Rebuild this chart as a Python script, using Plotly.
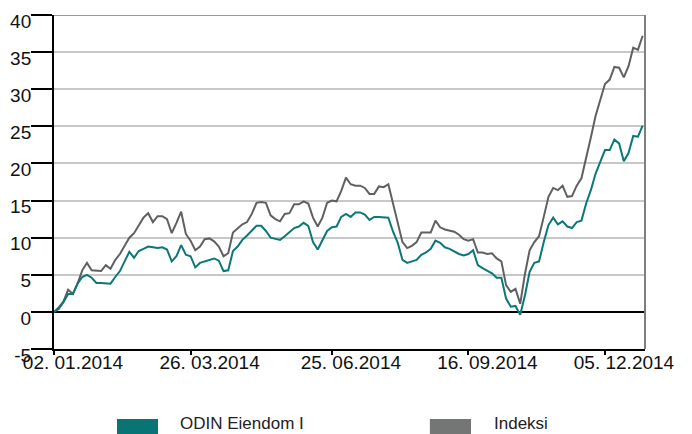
import plotly.graph_objects as go

# Trading-day index (every 2nd trading day of 2014)
trading_day = list(range(0, 251, 2))

odin_eiendom = [
    0, 0.4, 1.3, 2.4, 2.4, 3.8, 4.7, 5.0, 4.6, 3.9,
    3.9, 3.8, 3.8, 4.7, 5.5, 6.8, 8.1, 7.3, 8.2, 8.5,
    8.8, 8.7, 8.6, 8.7, 8.4, 6.8, 7.5, 9.0, 7.7, 7.5,
    6.0, 6.6, 6.8, 7.0, 7.2, 6.9, 5.5, 5.6, 8.2, 8.8,
    9.7, 10.3, 10.9, 11.6, 11.6, 10.9, 10.0, 9.9, 9.7, 10.2,
    10.8, 11.3, 11.5, 12.0, 11.6, 9.4, 8.4, 9.6, 10.9, 11.4,
    11.5, 12.8, 13.2, 12.8, 13.4, 13.4, 13.1, 12.4, 12.8, 12.8,
    12.7, 12.7, 10.8, 9.3, 7.0, 6.6, 6.8, 7.0, 7.7, 8.0,
    8.5, 9.6, 9.3, 8.7, 8.5, 8.1, 7.8, 7.6, 7.8, 8.3,
    6.3, 5.9, 5.5, 5.2, 4.6, 4.6, 1.8, 0.7, 0.8, -0.4,
    2.2, 5.4, 6.6, 6.8, 9.4, 11.7, 12.7, 11.8, 12.2, 11.5,
    11.3, 12.1, 12.3, 14.6, 16.4, 18.6, 20.2, 21.8, 21.8, 23.2,
    22.7, 20.3, 21.4, 23.7, 23.6, 25.1,
]

indeksi = [
    0, 0.6, 1.4, 3.0, 2.4, 3.8, 5.6, 6.6, 5.6, 5.5,
    5.5, 6.3, 5.8, 7.0, 7.8, 8.9, 10.0, 10.6, 11.7, 12.7,
    13.3, 12.1, 12.9, 12.9, 12.5, 10.6, 12.0, 13.5, 10.5, 9.6,
    8.3, 8.8, 9.8, 9.9, 9.5, 8.8, 7.5, 7.9, 10.7, 11.3,
    11.8, 12.1, 13.2, 14.7, 14.8, 14.7, 13.0, 12.5, 12.2, 13.2,
    13.3, 14.5, 14.5, 14.9, 14.6, 12.7, 11.5, 12.7, 14.7, 15.0,
    14.9, 16.3, 18.1, 17.2, 17.0, 17.0, 16.7, 15.9, 15.9, 16.9,
    16.8, 17.2, 14.6, 12.2, 9.4, 8.6, 8.9, 9.4, 10.7, 10.7,
    10.7, 12.3, 11.4, 11.1, 11.0, 10.8, 10.4, 9.8, 9.6, 9.8,
    8.0, 8.0, 7.8, 7.9, 7.2, 6.8, 3.6, 2.7, 3.1, 1.1,
    5.1, 8.3, 9.4, 10.2, 12.8, 15.5, 16.7, 16.4, 17.0, 15.5,
    15.6, 17.0, 18.0, 20.6, 23.5, 26.4, 28.5, 30.7, 31.3, 33.0,
    32.9, 31.6, 33.1, 35.6, 35.3, 37.2,
]

tick_days = [0, 58, 118, 176, 234]
tick_labels = ["02. 01.2014", "26. 03.2014", "25. 06.2014", "16. 09.2014", "05. 12.2014"]
y_ticks = [-5, 0, 5, 10, 15, 20, 25, 30, 35, 40]
y_tick_labels = ["-5", "0", "5", "10", "15", "20", "25", "30", "35", "40"]

series_names = ["ODIN Eiendom I", "Indeksi"]
teal = "#0b7877"
gray = "#5f6061"

fig = go.Figure()
fig.add_trace(go.Scatter(x=trading_day, y=indeksi, mode="lines", name=series_names[1],
                         line=dict(color=gray, width=2)))
fig.add_trace(go.Scatter(x=trading_day, y=odin_eiendom, mode="lines", name=series_names[0],
                         line=dict(color=teal, width=2)))

tick_font = dict(family="Liberation Sans, Arial, sans-serif", size=19, color="#111111")

# the page body adds an 8px offset, so the figure is 684x426
fig.update_layout(
    width=684, height=426,
    margin=dict(l=46, r=47, t=7, b=85),
    paper_bgcolor="white", plot_bgcolor="white",
    showlegend=False,
    xaxis=dict(
        range=[0, 251], tickmode="array", tickvals=tick_days, ticktext=tick_labels,
        showgrid=False, zeroline=False, automargin=False,
        showline=True, linecolor="black", linewidth=2,
        ticks="outside", ticklen=4, tickwidth=2, tickcolor="black",
        tickfont=tick_font, ticklabelshift=19, ticklabelstandoff=-9,
    ),
    yaxis=dict(
        range=[-5, 40], tickmode="array", tickvals=y_ticks, ticktext=y_tick_labels,
        showgrid=True, gridcolor="#c8c8c8", gridwidth=1.5,
        zeroline=True, zerolinecolor="black", zerolinewidth=2,
        showline=True, linecolor="black", linewidth=2, automargin=False,
        ticks="outside", ticklen=21, tickwidth=2, tickcolor="black",
        tickfont=tick_font, ticklabelshift=6, ticklabelstandoff=-4,
    ),
)

# top and right borders
fig.add_shape(type="line", xref="paper", yref="y", x0=0, x1=1, y0=40, y1=40,
              line=dict(color="#9a9a9a", width=2))
fig.add_shape(type="line", xref="paper", yref="paper", x0=1, x1=1, y0=0, y1=1,
              line=dict(color="#7f7f7f", width=2))

# custom legend
legend_colors = ["#087474", "#747676"]
swatch_x = [(0.1066, 0.176), (0.636, 0.7056)]
text_x = [0.2098, 0.741]
for name, col, (sx0, sx1), tx in zip(series_names, legend_colors, swatch_x, text_x):
    fig.add_shape(type="rect", xref="paper", yref="paper", x0=sx0, x1=sx1,
                  y0=-0.2096, y1=-0.26, fillcolor=col, line=dict(width=0))
    fig.add_annotation(xref="paper", yref="paper", x=tx, y=-0.2216, text=name,
                       showarrow=False, xanchor="left", yanchor="middle",
                       font=dict(family="Liberation Sans, Arial, sans-serif", size=17, color="#222222"))

fig.write_html("out.html")
